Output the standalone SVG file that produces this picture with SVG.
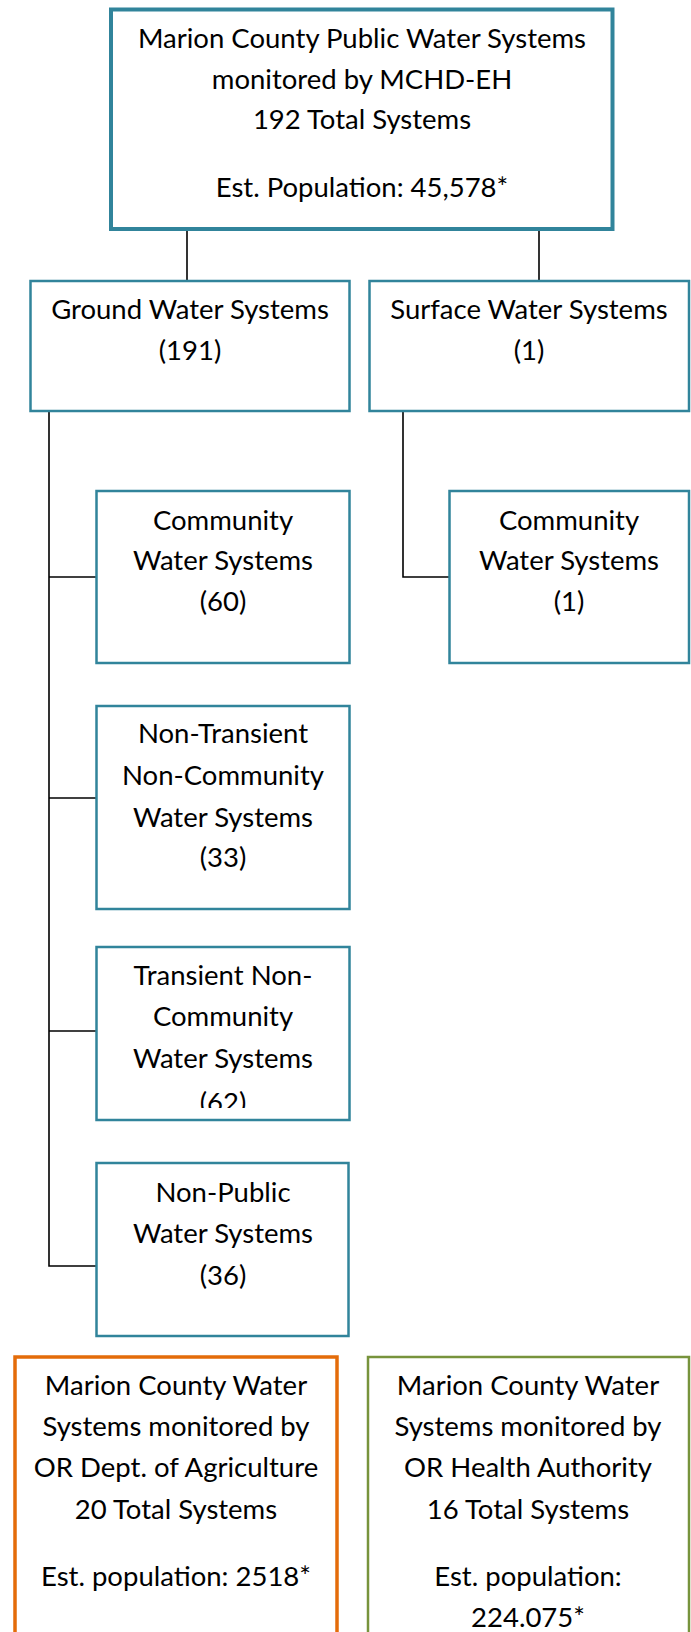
<svg xmlns="http://www.w3.org/2000/svg" width="691" height="1632" viewBox="0 0 691 1632">
  <style>
    .box { fill: #ffffff; stroke: #31849B; stroke-width: 2.5; }
    .thick { stroke-width: 4; }
    .orange { fill: #ffffff; stroke: #E46C0A; stroke-width: 3.5; }
    .green { fill: #ffffff; stroke: #77933C; stroke-width: 2.5; }
    .lbl { font-family: Lato, "Open Sans", "Liberation Sans", sans-serif; font-size: 27.5px; fill: #000000; text-anchor: middle; }
    .conn { stroke: #000000; stroke-width: 1.6; fill: none; }
  </style>
  <defs>
    <clipPath id="clipTransient">
      <rect x="98" y="948" width="250" height="160"/>
    </clipPath>
  </defs>
  <rect x="0" y="0" width="691" height="1632" fill="#ffffff"/>

  <g id="connectors">
    <line class="conn" x1="187" y1="231" x2="187" y2="281"/>
    <line class="conn" x1="539" y1="231" x2="539" y2="281"/>
    <polyline class="conn" points="49,412 49,1266 96,1266"/>
    <line class="conn" x1="49" y1="577" x2="96" y2="577"/>
    <line class="conn" x1="49" y1="798" x2="96" y2="798"/>
    <line class="conn" x1="49" y1="1031" x2="96" y2="1031"/>
    <polyline class="conn" points="403,412 403,577 449,577"/>
  </g>

  <g id="node-top">
    <rect class="box thick" x="111" y="9.5" width="501.5" height="219.5"/>
    <text class="lbl" x="362" y="48">Marion County Public Water Systems</text>
    <text class="lbl" x="362" y="89">monitored by MCHD-EH</text>
    <text class="lbl" x="362" y="129">192 Total Systems</text>
    <text class="lbl" x="362" y="197">Est. Population: 45,578*</text>
  </g>

  <g id="node-ground">
    <rect class="box" x="30.5" y="281" width="319" height="130"/>
    <text class="lbl" x="190" y="319">Ground Water Systems</text>
    <text class="lbl" x="190" y="360">(191)</text>
  </g>

  <g id="node-surface">
    <rect class="box" x="369.5" y="281" width="319.5" height="130"/>
    <text class="lbl" x="529" y="319">Surface Water Systems</text>
    <text class="lbl" x="529" y="360">(1)</text>
  </g>

  <g id="node-community-ground">
    <rect class="box" x="96.5" y="491" width="253" height="172"/>
    <text class="lbl" x="223" y="530">Community</text>
    <text class="lbl" x="223" y="570">Water Systems</text>
    <text class="lbl" x="223" y="611">(60)</text>
  </g>

  <g id="node-community-surface">
    <rect class="box" x="449.5" y="491" width="239.5" height="172"/>
    <text class="lbl" x="569" y="530">Community</text>
    <text class="lbl" x="569" y="570">Water Systems</text>
    <text class="lbl" x="569" y="611">(1)</text>
  </g>

  <g id="node-ntnc">
    <rect class="box" x="96.5" y="706" width="253" height="203"/>
    <text class="lbl" x="223" y="743">Non-Transient</text>
    <text class="lbl" x="223" y="785">Non-Community</text>
    <text class="lbl" x="223" y="827">Water Systems</text>
    <text class="lbl" x="223" y="867">(33)</text>
  </g>

  <g id="node-tnc">
    <rect class="box" x="96.5" y="947" width="253" height="173"/>
    <g clip-path="url(#clipTransient)">
      <text class="lbl" x="223" y="985">Transient Non-</text>
      <text class="lbl" x="223" y="1026">Community</text>
      <text class="lbl" x="223" y="1068">Water Systems</text>
      <text class="lbl" x="223" y="1112">(62)</text>
    </g>
  </g>

  <g id="node-nonpublic">
    <rect class="box" x="96.5" y="1163" width="252" height="173"/>
    <text class="lbl" x="223" y="1202">Non-Public</text>
    <text class="lbl" x="223" y="1243">Water Systems</text>
    <text class="lbl" x="223" y="1285">(36)</text>
  </g>

  <g id="node-oda">
    <rect class="orange" x="15" y="1357" width="322" height="320"/>
    <text class="lbl" x="176" y="1395">Marion County Water</text>
    <text class="lbl" x="176" y="1436">Systems monitored by</text>
    <text class="lbl" x="176" y="1477">OR Dept. of Agriculture</text>
    <text class="lbl" x="176" y="1519">20 Total Systems</text>
    <text class="lbl" x="176" y="1586">Est. population: 2518*</text>
  </g>

  <g id="node-oha">
    <rect class="green" x="368" y="1357" width="321" height="320"/>
    <text class="lbl" x="528" y="1395">Marion County Water</text>
    <text class="lbl" x="528" y="1436">Systems monitored by</text>
    <text class="lbl" x="528" y="1477">OR Health Authority</text>
    <text class="lbl" x="528" y="1519">16 Total Systems</text>
    <text class="lbl" x="528" y="1586">Est. population:</text>
    <text class="lbl" x="528" y="1627">224.075*</text>
  </g>
</svg>
